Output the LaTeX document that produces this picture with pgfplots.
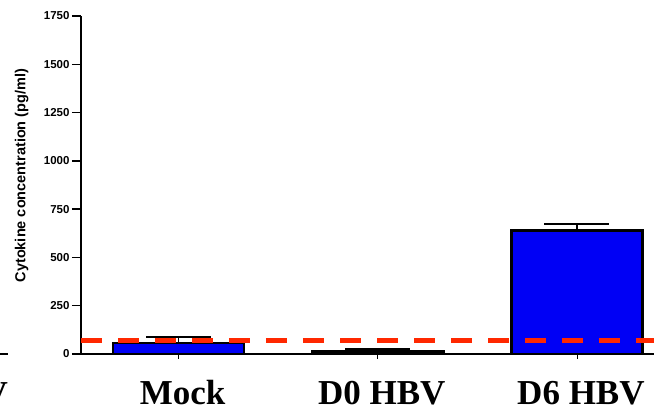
\documentclass[border=0pt]{standalone}
\usepackage{pgfplots}
\pgfplotsset{compat=1.18}
\usepackage{fontspec}
\setmainfont{Liberation Serif}
\setsansfont{Liberation Sans}

\definecolor{barblue}{RGB}{0,0,245}
\definecolor{cutred}{RGB}{255,40,0}

\begin{document}
\begin{tikzpicture}
\begin{axis}[
  name=ax,
  scale only axis,
  width=573pt, height=338pt,
  xmin=-0.49, xmax=2.387,
  ymin=0, ymax=1750,
  ytick={0,250,...,1750},
  xtick={0,1,2},
  xticklabels={Mock, D0 HBV, D6 HBV},
  axis x line*=bottom, axis y line*=left,
  axis line style={-, line width=1.5pt, black},
  tick align=outside,
  major tick length=9pt,
  ytick style={line width=1.5pt, black},
  xtick style={draw=none},
  scaled y ticks=false,
  /pgf/number format/.cd, set thousands separator={}, assume math mode=true, /pgfplots/.cd,
  yticklabel style={font=\sffamily\bfseries\fontsize{11.5}{11.5}\selectfont, xshift=1pt},
  xticklabel style={font=\bfseries\fontsize{35}{35}\selectfont, anchor=base, yshift=-41pt, xshift=4pt},
  ylabel={Cytokine concentration (pg/ml)},
  ylabel style={font=\sffamily\bfseries\fontsize{14.5}{14.5}\selectfont,
                at={(axis description cs:-0.1035,0.528)}, anchor=center},
  clip=false,
]
% cytokine levels (mean, upper SEM)
\addplot[ybar, bar width=131pt, fill=barblue, draw=black, line width=2.5pt,
  error bars/.cd, y dir=plus, y explicit,
  error bar style={line width=1.8pt, black},
  error mark options={rotate=90, mark size=32.5pt, line width=1.8pt, black}]
  coordinates {(0,58) +- (0,31) (1,12) +- (0,12) (2,640) +- (0,32)};
% detection limit
\addplot[cutred, line width=4.5pt, dash pattern=on 21pt off 16pt]
  coordinates {(-0.49,70) (2.387,70)};
% short category ticks
\foreach \c in {0,1,2} {
  \edef\tmp{\noexpand\draw[line width=0.8pt] (axis cs:\c,0) -- ([yshift=-4.5pt]axis cs:\c,0);}
  \tmp
}
\end{axis}
\draw[line width=1.5pt] ([shift={(-81pt,0pt)}]ax.south west) -- ++(8pt,0);
\node[font=\bfseries\fontsize{35}{35}\selectfont, anchor=base east, inner sep=0pt]
  at ([shift={(-73pt,-51.5pt)}]ax.south west) {V};
\pgfresetboundingbox
\path[use as bounding box] ([shift={(-81pt,-56.5pt)}]ax.south west) rectangle ([shift={(0pt,16pt)}]ax.north east);
\end{tikzpicture}
\end{document}
